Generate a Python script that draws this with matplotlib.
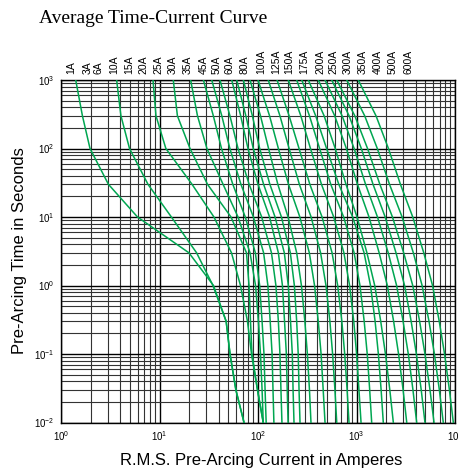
import matplotlib
matplotlib.use("Agg")
import matplotlib.pyplot as plt
from matplotlib.ticker import LogLocator, NullFormatter

# pre-arcing times (s) at which each curve's current was read
times = [1000, 300, 100, 30, 10, 3, 1, 0.3, 0.1, 0.03, 0.01]

ratings = ["1A", "3A", "6A", "10A", "15A", "20A", "25A", "30A", "35A", "45A",
           "50A", "60A", "80A", "100A", "125A", "150A", "175A", "200A", "250A",
           "300A", "350A", "400A", "500A", "600A"]

# current (A) of each curve at the times above, left to right
curves = [
    [1.41, 1.65, 1.97, 3.03, 5.98, 19.9, 35.3, 47.5, 52.0, 59.6, 72.1],
    [3.67, 4.06, 4.96, 7.64, 13.2, 23.8, 34.9, 47.5, 52.0, 59.6, 72.1],
    [8.59, 9.21, 11.6, 21.4, 35.7, 53.8, 66.4, 78.2, 85.9, 98.8, 113],
    [13.8, 15.2, 20.4, 30.7, 53.2, 76.4, 81.1, 83.9, 86.9, 98.8, 113],
    [20.7, 24.3, 30.3, 44.2, 62.7, 83.0, 94.4, 101, 106, 110, 113],
    [27.9, 35.2, 42.6, 55.5, 74.3, 94.0, 104, 110, 115, 118, 121],
    [33.9, 42.9, 51.8, 67.1, 89.8, 114, 126, 133, 139, 142, 145],
    [41.1, 51.9, 62.7, 81.3, 109, 137, 152, 161, 167, 171, 175],
    [54.1, 66.7, 79.1, 100, 131, 161, 177, 186, 194, 198, 202],
    [60.8, 75.3, 89.5, 114, 149, 185, 203, 214, 223, 227, 232],
    [71.0, 87.7, 104, 132, 173, 213, 234, 247, 256, 261, 267],
    [83.0, 106, 128, 159, 202, 247, 276, 299, 317, 333, 345],
    [100, 131, 161, 204, 266, 332, 375, 409, 437, 459, 479],
    [127, 167, 207, 263, 346, 432, 490, 537, 572, 604, 630],
    [156, 207, 261, 336, 447, 565, 644, 710, 759, 803, 839],
    [203, 272, 341, 441, 587, 745, 851, 938, 1002, 1059, 1112],
    [247, 333, 422, 548, 740, 946, 1084, 1197, 1285, 1361, 1426],
    [278, 385, 497, 661, 914, 1194, 1387, 1545, 1667, 1778, 1871],
    [324, 469, 608, 782, 1012, 1276, 1531, 1762, 1968, 2178, 2366],
    [409, 601, 789, 1023, 1340, 1698, 2056, 2382, 2673, 2972, 3236],
    [479, 714, 946, 1236, 1633, 2099, 2553, 2972, 3357, 3741, 4083],
    [560, 841, 1119, 1472, 1955, 2518, 3076, 3589, 4055, 4539, 4955],
    [630, 961, 1294, 1726, 2317, 3013, 3724, 4375, 4955, 5572, 6124],
    [796, 1211, 1626, 2163, 2904, 3776, 4634, 5445, 6180, 6934, 7603],
    [1042, 1578, 2109, 2793, 3724, 4819, 5916, 6918, 7834, 8770, 9616],
]

# x pixel of each rating label above the grid
label_px = [71, 88, 98.5, 114, 129, 143.5, 158, 172.5, 188, 203.5, 216.5, 230,
            245, 261, 276, 289, 304, 320, 333, 348, 363, 378, 393, 408]

plt.rcParams['font.family'] = ['Liberation Sans', 'DejaVu Sans']
plt.rcParams['mathtext.fontset'] = 'custom'
plt.rcParams['mathtext.rm'] = 'Liberation Sans'
plt.rcParams['mathtext.it'] = 'Liberation Sans'

W, H = 458, 472
fig = plt.figure(figsize=(W / 100, H / 100), dpi=100)
ax = fig.add_axes([61 / W, (H - 422.5) / H, 394 / W, 342.5 / H])

for currents in curves:
    ax.plot(currents, times, color="#00a651", lw=1.1, zorder=3)

ax.set_xscale("log")
ax.set_yscale("log")
ax.set_xlim(1, 1e4)
ax.set_ylim(0.01, 1000)
for axis in (ax.xaxis, ax.yaxis):
    axis.set_major_locator(LogLocator(base=10, numticks=20))
    axis.set_minor_locator(LogLocator(base=10, subs=range(2, 10), numticks=40))
    axis.set_minor_formatter(NullFormatter())

ax.grid(which="major", color="black", lw=1.0, zorder=1)
ax.grid(which="minor", color="#333333", lw=0.8, zorder=1)
ax.set_axisbelow(True)
ax.tick_params(which="both", length=0)
ax.tick_params(labelsize=7, pad=5)
for s in ax.spines.values():
    s.set_color("black")
    s.set_linewidth(1.0)

for lab, px in zip(ratings, label_px):
    fig.text(px / W, (H - 74) / H, lab, rotation=90, ha="center", va="bottom",
             fontsize=7.5)

fig.text(39 / W, (H - 23) / H, "Average Time-Current Curve", family="Liberation Serif",
         fontsize=14, ha="left", va="baseline")
fig.text(20 / W, (H - 251) / H, "Pre-Arcing Time in Seconds", rotation=90,
         ha="center", va="center", fontsize=12)
fig.text(261 / W, (H - 461) / H, "R.M.S. Pre-Arcing Current in Amperes",
         ha="center", va="center", fontsize=12)

fig.savefig("out.png", dpi=100)
